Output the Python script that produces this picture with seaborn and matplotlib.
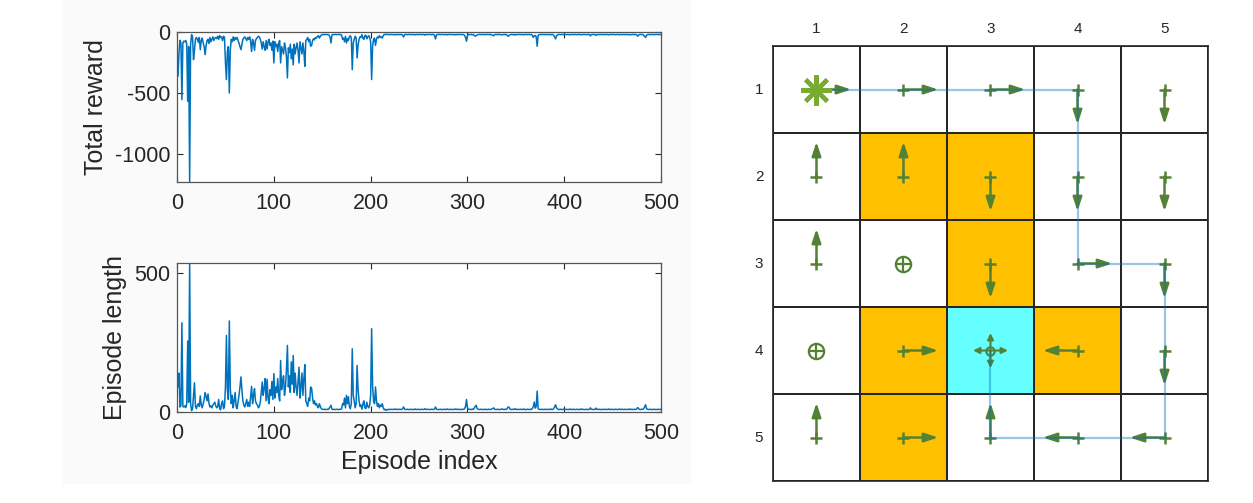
import numpy as np
import pandas as pd
import seaborn as sns
import matplotlib
matplotlib.use('Agg')
from matplotlib import pyplot as plt
from matplotlib.colors import ListedColormap
from matplotlib.patches import Rectangle

# episode length, episodes 1..500
length_early = [
    90, 140, 18, 25, 320, 20, 18, 22, 16, 30, 255, 35, 535, 30, 5, 12, 60, 105, 20, 12,
    25, 30, 20, 58, 25, 15, 30, 45, 70, 55, 40, 65, 30, 18, 22, 15, 25, 30, 35, 22,
    15, 20, 45, 12, 8, 30, 40, 12, 20, 90, 275, 80, 45, 327, 85, 30, 60, 15, 40, 70,
    20, 12, 35, 60, 90, 126, 80, 40, 25, 18, 30, 45, 20, 35, 20, 55, 92, 30, 60, 84,
    40, 30, 25, 15, 20, 35, 70, 108, 60, 85, 120, 40, 117, 50, 30, 80, 60, 110, 45, 138,
    50, 90, 70, 120, 60, 40, 185, 80, 110, 130, 60, 90, 150, 239, 90, 130, 70, 180, 100, 203,
    70, 140, 90, 60, 110, 161, 50, 90, 140, 60, 120, 170, 40, 30, 20, 50, 40, 90, 85, 50,
    30, 40, 25, 30, 20, 15, 30, 20, 12, 10, 9, 10, 9, 9, 10, 9, 12, 18, 24, 10,
    9, 10, 9, 9, 10, 9, 9, 10, 9, 12, 30, 25, 50, 15, 60, 30, 55, 20, 12, 30,
    227, 60, 40, 15, 30, 167, 80, 40, 20, 25, 10, 30, 40, 15, 12, 35, 20, 15, 25, 60,
    299, 90, 40, 30, 90, 40, 20, 30, 15, 25, 20, 30, 15, 8, 10, 6, 9, 8, 10, 9,
]
length_late = [
    9, 10, 9, 9, 11, 9, 10, 9, 9, 10, 9, 9, 12, 18, 10, 9, 9, 10, 9, 9,
    9, 10, 9, 9, 9, 11, 9, 9, 10, 9, 9, 9, 10, 9, 9, 12, 9, 9, 10, 9,
    9, 9, 10, 9, 9, 11, 18, 10, 9, 9, 9, 10, 9, 9, 9, 10, 9, 9, 11, 9,
    9, 10, 9, 9, 9, 10, 9, 11, 9, 9, 10, 9, 9, 9, 10, 9, 12, 20, 45, 14,
    9, 10, 9, 9, 11, 9, 14, 20, 24, 12, 10, 9, 9, 10, 9, 9, 9, 10, 9, 9,
    9, 10, 9, 9, 11, 12, 15, 10, 9, 9, 10, 9, 9, 9, 10, 11, 9, 9, 10, 9,
    12, 18, 17, 10, 9, 9, 10, 9, 12, 9, 9, 10, 9, 9, 10, 9, 9, 11, 9, 9,
    9, 10, 9, 9, 10, 9, 12, 20, 36, 14, 20, 75, 12, 10, 9, 9, 10, 9, 9, 10,
    9, 9, 10, 9, 9, 11, 9, 9, 12, 18, 26, 15, 11, 9, 9, 10, 9, 9, 10, 9,
    9, 10, 9, 9, 9, 11, 9, 9, 10, 9, 9, 9, 10, 9, 9, 9, 11, 9, 10, 9,
    9, 9, 10, 9, 9, 9, 15, 10, 9, 9, 10, 9, 14, 9, 9, 10, 9, 9, 9, 10,
    9, 9, 10, 9, 9, 11, 9, 9, 10, 9, 9, 9, 10, 9, 9, 9, 11, 9, 9, 10,
    9, 9, 10, 9, 9, 9, 11, 9, 10, 9, 9, 10, 9, 9, 12, 16, 11, 9, 9, 10,
    9, 12, 18, 26, 12, 10, 9, 9, 10, 9, 9, 9, 10, 9, 9, 9, 10, 9, 9, 10,
]

# total reward, episodes 1..500
reward_early = [
    -363, -170, -68, -90, -555, -90, -75, -80, -70, -100, -568, -120, -1230, -100, -22, -40, -227, -150, -60, -45,
    -60, -85, -45, -145, -70, -50, -90, -120, -186, -110, -70, -60, -95, -45, -80, -60, -40, -70, -50, -45,
    -55, -35, -60, -30, -45, -40, -70, -35, -45, -250, -390, -160, -120, -500, -150, -60, -80, -40, -70, -45,
    -60, -45, -70, -90, -120, -145, -100, -60, -50, -40, -55, -70, -45, -60, -40, -80, -160, -60, -90, -150,
    -70, -55, -45, -35, -40, -60, -90, -140, -80, -120, -150, -70, -140, -80, -60, -110, -90, -150, -75, -254,
    -80, -120, -100, -160, -90, -70, -254, -120, -150, -180, -90, -130, -200, -377, -130, -170, -100, -220, -140, -270,
    -100, -180, -130, -90, -150, -254, -80, -130, -180, -90, -160, -281, -70, -60, -45, -80, -60, -117, -110, -70,
    -55, -65, -45, -50, -35, -30, -50, -35, -25, -22, -20, -22, -20, -20, -22, -20, -26, -40, -90, -24,
    -20, -22, -20, -20, -22, -20, -20, -22, -20, -26, -60, -50, -80, -35, -90, -55, -70, -40, -30, -50,
    -309, -90, -60, -35, -50, -213, -110, -60, -40, -45, -22, -50, -60, -30, -26, -55, -40, -30, -45, -80,
    -390, -117, -60, -50, -110, -60, -40, -50, -30, -45, -40, -50, -30, -20, -22, -18, -20, -20, -22, -20,
]
reward_late = [
    -20, -22, -20, -21, -24, -20, -22, -20, -20, -22, -20, -21, -26, -41, -22, -20, -20, -22, -20, -20,
    -20, -22, -20, -20, -21, -24, -20, -20, -22, -20, -20, -21, -22, -20, -20, -26, -20, -20, -22, -20,
    -20, -21, -22, -20, -20, -28, -57, -24, -20, -20, -20, -22, -20, -20, -21, -22, -20, -20, -24, -20,
    -20, -22, -20, -20, -21, -22, -20, -24, -20, -20, -22, -20, -20, -21, -22, -20, -28, -45, -76, -30,
    -20, -22, -20, -20, -24, -20, -28, -35, -30, -24, -22, -20, -20, -22, -20, -20, -21, -22, -20, -20,
    -20, -22, -20, -20, -24, -26, -32, -22, -20, -20, -22, -20, -20, -21, -22, -24, -20, -20, -22, -20,
    -26, -35, -30, -22, -20, -20, -22, -20, -26, -20, -20, -22, -20, -20, -22, -20, -21, -24, -20, -20,
    -20, -22, -20, -20, -22, -20, -26, -45, -32, -28, -40, -117, -26, -22, -20, -20, -22, -20, -20, -22,
    -20, -20, -22, -20, -20, -24, -20, -20, -26, -40, -57, -30, -24, -20, -20, -22, -20, -20, -22, -20,
    -20, -22, -20, -20, -21, -24, -20, -20, -22, -20, -20, -21, -22, -20, -20, -20, -24, -20, -22, -20,
    -20, -21, -22, -20, -20, -20, -32, -22, -20, -20, -22, -20, -28, -20, -20, -22, -20, -20, -21, -22,
    -20, -20, -22, -20, -20, -24, -20, -20, -22, -20, -20, -21, -22, -20, -20, -20, -24, -20, -20, -22,
    -20, -20, -22, -20, -20, -21, -24, -20, -22, -20, -20, -22, -20, -20, -26, -34, -24, -20, -20, -22,
    -20, -26, -36, -45, -26, -22, -20, -20, -22, -20, -20, -21, -22, -20, -20, -20, -22, -20, -20, -22,
]

# grid world: 0 = free, 1 = forbidden, 2 = target
grid = [
    [0, 0, 0, 0, 0],
    [0, 1, 1, 0, 0],
    [0, 0, 1, 0, 0],
    [0, 1, 2, 1, 0],
    [0, 1, 0, 0, 0],
]
# policy per cell: 'u','d','l','r','s' (stay), 't' = target
policy = [
    ['r', 'r', 'r', 'd', 'd'],
    ['u', 'u', 'd', 'd', 'd'],
    ['u', 's', 'd', 'r', 'd'],
    ['s', 'r', 't', 'l', 'd'],
    ['u', 'r', 'u', 'l', 'l'],
]
# trajectory (row, col), 1-based
path = [(1, 1), (1, 2), (1, 3), (1, 4), (2, 4), (3, 4), (3, 5),
        (4, 5), (5, 5), (5, 4), (5, 3), (4, 3)]
start = (1, 1)
labels = ['1', '2', '3', '4', '5']

length = length_early + length_late
reward = reward_early + reward_late
df = pd.DataFrame({'episode': np.arange(1, len(length) + 1),
                   'reward': reward, 'length': length})

sns.set_theme(style='ticks')
plt.rcParams['font.family'] = ['Liberation Sans', 'DejaVu Sans']
plt.rcParams['axes.unicode_minus'] = False

fig = plt.figure(figsize=(12.53, 5.03), dpi=100)
fig.patches.append(Rectangle((63 / 1253, 0.04), (690 - 63) / 1253, 0.96,
                             transform=fig.transFigure, color='#fafafa', zorder=-10))

blue = '#0072BD'
dark = '#262626'

ax1 = fig.add_axes([0.1413, 0.6382, 0.3863, 0.2982])
ax2 = fig.add_axes([0.1413, 0.1809, 0.3863, 0.2962])

sns.lineplot(data=df, x='episode', y='reward', ax=ax1, color=blue, lw=1.1)
sns.lineplot(data=df, x='episode', y='length', ax=ax2, color=blue, lw=1.1)

ax1.set_ylim(-1230, 0)
ax1.set_yticks([-1000, -500, 0])
ax2.set_ylim(0, 535)
ax2.set_yticks([0, 500])
ax1.set_ylabel('Total reward', fontsize=18, color=dark, labelpad=5)
ax2.set_ylabel('Episode length', fontsize=18, color=dark, labelpad=5)
ax1.set_xlabel('')
ax2.set_xlabel('Episode index', fontsize=18, color=dark, labelpad=4)
for ax in (ax1, ax2):
    ax.set_xlim(0, 500)
    ax.set_xticks(range(0, 501, 100))
    ax.set_facecolor('white')
    ax.tick_params(direction='in', length=4, width=0.8, colors=dark,
                   labelsize=15.5, top=True, right=True)
    ax.tick_params(axis='x', pad=8)
    ax.tick_params(axis='y', pad=5)
    for s in ax.spines.values():
        s.set_visible(True)
        s.set_color('#555555')
        s.set_linewidth(0.9)

# grid world
ax3 = fig.add_axes([0.6169, 0.0437, 0.3472, 0.8648])
cmap = ListedColormap(['white', '#FFC000', '#66FFFF'])
sns.heatmap(np.array(grid), cmap=cmap, vmin=0, vmax=2, cbar=False,
            linewidths=1.2, linecolor=dark, ax=ax3)
ax3.xaxis.tick_top()
ax3.set_xticks(np.arange(5) + 0.5)
ax3.set_yticks(np.arange(5) + 0.5)
ax3.set_xticklabels(labels)
ax3.set_yticklabels(labels, rotation=0)
ax3.tick_params(length=0, labelsize=11, colors=dark)
ax3.tick_params(axis='x', pad=7)
ax3.tick_params(axis='y', pad=7)
for s in ax3.spines.values():
    s.set_visible(True)
    s.set_color(dark)
    s.set_linewidth(1.2)

green = '#548235'
dirs = {'u': (0, -1), 'd': (0, 1), 'l': (-1, 0), 'r': (1, 0)}
for r, row in enumerate(policy):
    for c, a in enumerate(row):
        cx, cy = c + 0.5, r + 0.5
        if a in dirs:
            dx, dy = dirs[a]
            ax3.annotate('', xy=(cx + 0.4 * dx, cy + 0.4 * dy), xytext=(cx, cy),
                         arrowprops=dict(arrowstyle='-|>,head_length=0.55,head_width=0.18',
                                         mutation_scale=15, color=green, lw=1.8,
                                         shrinkA=0, shrinkB=0), zorder=3)
            ax3.plot(cx, cy, marker='+', ms=9, mew=1.8, color=green, zorder=3)
        elif a == 's':
            ax3.plot(cx, cy, marker='o', ms=11, mfc='none', mew=1.6, color=green, zorder=3)
            ax3.plot(cx, cy, marker='+', ms=11, mew=1.6, color=green, zorder=3)
        else:
            for dx, dy in dirs.values():
                ax3.annotate('', xy=(cx + 0.2 * dx, cy + 0.2 * dy), xytext=(cx, cy),
                             arrowprops=dict(arrowstyle='-|>,head_length=0.4,head_width=0.2',
                                             mutation_scale=9, color=green, lw=1.5,
                                             shrinkA=0, shrinkB=0), zorder=3)
            ax3.plot(cx, cy, marker='o', ms=6, mfc='none', mew=1.5, color=green, zorder=3)

px = [c - 0.5 for r, c in path]
py = [r - 0.5 for r, c in path]
ax3.plot(px, py, color=blue, alpha=0.4, lw=1.6, zorder=4)
ax3.plot(start[1] - 0.5, start[0] - 0.5, marker=(8, 2, 0), ms=22, mew=3,
         color='#77AC30', zorder=5)

fig.savefig('out.png', dpi=100)
